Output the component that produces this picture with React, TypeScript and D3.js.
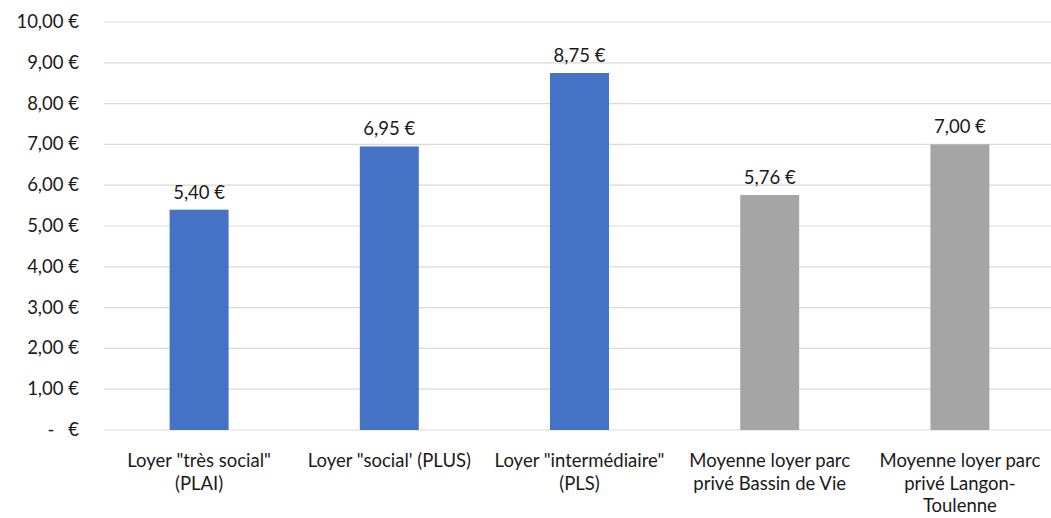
import React from "react";
import * as d3 from "d3";

const categories: string[][] = [
  ['Loyer "très social"', "(PLAI)"],
  ["Loyer \"social' (PLUS)"],
  ['Loyer "intermédiaire"', "(PLS)"],
  ["Moyenne loyer parc", "privé Bassin de Vie"],
  ["Moyenne loyer parc", "privé Langon-", "Toulenne"],
];
const values: number[] = [5.4, 6.95, 8.75, 5.76, 7.0];
const barColors: string[] = ["#4472C4", "#4472C4", "#4472C4", "#A5A5A5", "#A5A5A5"];
const yTicks: number[] = [0, 1, 2, 3, 4, 5, 6, 7, 8, 9, 10];

const W = 1051;
const H = 518;
const FONT = "Lato, 'Open Sans', sans-serif";
const TEXT = "#1a1a1a";
const FS = 18.5;

export default function App() {
  const x = d3
    .scaleBand<number>()
    .domain(values.map((_, i) => i))
    .range([104, 1055])
    .paddingInner(0.69)
    .paddingOuter(0.345);
  const y = d3.scaleLinear().domain([0, 10]).range([430, 22]);
  const fmt = (v: number) => v.toFixed(2).replace(".", ",") + " €";

  return (
    <svg
      width={W}
      height={H}
      style={{ position: "absolute", left: 0, top: 0, display: "block", background: "#fff" }}
      fontFamily={FONT}
    >
      {yTicks.map((t) => (
        <g key={t}>
          <line x1={104} x2={W} y1={y(t)} y2={y(t)} stroke="#D9D9D9" strokeWidth={1.2} />
          {t === 0 ? (
            <>
              <text x={51} y={y(t) + 6} fontSize={FS} fill={TEXT} textAnchor="middle">-</text>
              <text x={79} y={y(t) + 6} fontSize={FS} fill={TEXT} textAnchor="end">€</text>
            </>
          ) : (
            <text x={79} y={y(t) + 6} fontSize={FS} fill={TEXT} textAnchor="end">
              {fmt(t)}
            </text>
          )}
        </g>
      ))}
      {values.map((v, i) => {
        const bx = x(i)!;
        const cx = bx + x.bandwidth() / 2;
        return (
          <g key={i}>
            <rect x={bx} y={y(v)} width={x.bandwidth()} height={y(0) - y(v)} fill={barColors[i]} />
            <text x={cx} y={y(v) - 11} fontSize={FS} fill={TEXT} textAnchor="middle">
              {fmt(v)}
            </text>
            {categories[i].map((line, j) => (
              <text key={j} x={cx} y={467 + j * 22.5} fontSize={FS} fill={TEXT} textAnchor="middle">
                {line}
              </text>
            ))}
          </g>
        );
      })}
    </svg>
  );
}
